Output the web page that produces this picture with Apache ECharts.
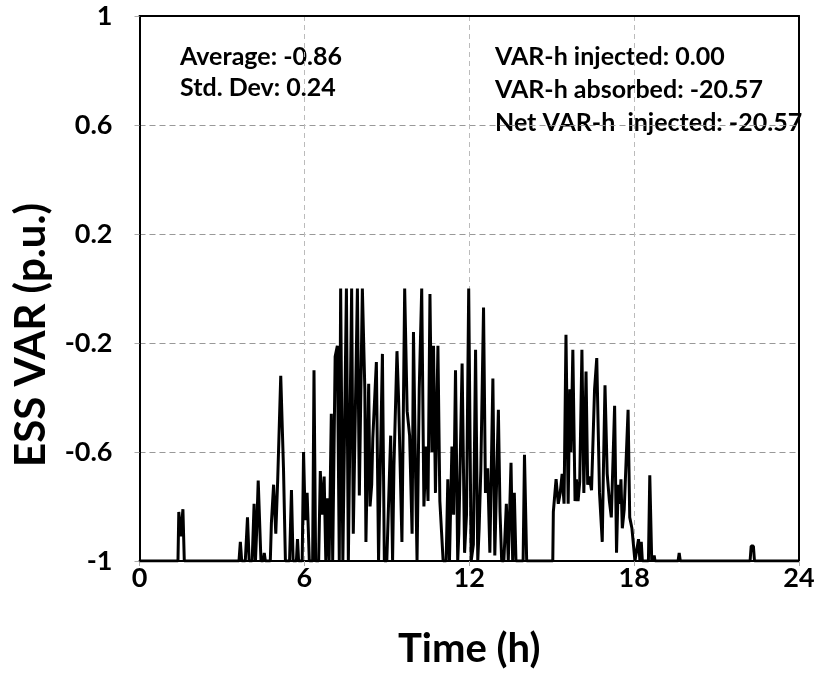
<!DOCTYPE html>
<html>
<head>
<meta charset="utf-8">
<script src="https://cdn.jsdelivr.net/npm/echarts@6/dist/echarts.min.js"></script>
<style>
  html, body { margin: 0; padding: 0; background: #fff; }
  #chart { width: 819px; height: 676px; }
</style>
</head>
<body>
<div id="chart"></div>
<script>
// time (h) and ESS VAR (p.u.)
var hours = [
  0, 1.40, 1.43, 1.50, 1.58, 1.63, 3.62, 3.67, 3.72, 3.85, 3.93, 3.99, 4.10, 4.17, 4.22, 4.26, 4.32, 4.42,
  4.50, 4.54, 4.58, 4.76, 4.80, 4.88, 4.96, 5.03, 5.14, 5.24, 5.31, 5.46, 5.53, 5.59, 5.71, 5.75, 5.79,
  5.92, 5.97, 6.03, 6.10, 6.18, 6.30, 6.35, 6.41, 6.52, 6.58, 6.64, 6.72, 6.78, 6.83, 6.90, 6.98, 7.03,
  7.12, 7.20, 7.27, 7.32, 7.40, 7.53, 7.60, 7.72, 7.78, 7.93, 8.00, 8.11, 8.20, 8.24, 8.34, 8.39, 8.45,
  8.49, 8.62, 8.70, 8.84, 8.91, 9.00, 9.14, 9.21, 9.26, 9.37, 9.43, 9.55, 9.65, 9.74, 9.83, 9.92, 9.97,
  10.05, 10.10, 10.18, 10.27, 10.35, 10.43, 10.50, 10.57, 10.64, 10.70, 10.77, 10.86, 10.93, 10.99, 11.05,
  11.16, 11.22, 11.28, 11.37, 11.43, 11.50, 11.58, 11.62, 11.74, 11.83, 11.90, 11.98, 12.07, 12.15, 12.23,
  12.31, 12.36, 12.42, 12.52, 12.59, 12.67, 12.75, 12.86, 12.93, 13.06, 13.12, 13.18, 13.26, 13.35, 13.42,
  13.52, 13.58, 13.64, 13.70, 13.96, 14.01, 14.09, 15.04, 15.06, 15.16, 15.24, 15.31, 15.38, 15.45, 15.52,
  15.60, 15.66, 15.70, 15.77, 15.85, 15.90, 15.96, 16.02, 16.10, 16.17, 16.25, 16.31, 16.37, 16.45, 16.56,
  16.64, 16.74, 16.84, 16.88, 16.94, 17.02, 17.10, 17.17, 17.29, 17.36, 17.42, 17.48, 17.52, 17.57, 17.64,
  17.78, 17.84, 17.92, 18.03, 18.10, 18.16, 18.21, 18.26, 18.30, 18.52, 18.57, 18.64, 18.71, 18.73, 18.76,
  19.60, 19.64, 19.68, 22.22, 22.26, 22.34, 22.38, 24
];
var essVar = [
  -1, -1, -0.82, -0.91, -0.81, -1, -1, -0.93, -1, -1, -0.84, -1, -1, -0.79, -1, -0.9, -0.705, -1,
  -1, -0.97, -1, -1, -0.86, -0.72, -0.90, -0.70, -0.32, -0.66, -1, -1, -0.74, -1, -1, -0.92, -1,
  -1, -0.60, -0.85, -0.75, -1, -1, -0.30, -1, -1, -0.67, -0.83, -0.69, -1, -0.77, -1, -0.46, -1,
  -0.25, -0.21, -1, 0, -1, 0, -1, 0, -0.9, 0, -0.76, 0, -0.37, -0.93, -0.35, -0.80, -0.72,
  -0.55, -0.27, -1, -0.24, -1, -1, -0.54, -1, -0.65, -0.23, -0.41, -0.93, 0, -0.45, -0.54, -0.90, -0.16,
  -0.70, -1, -0.37, 0, -0.80, -0.58, -0.78, -0.02, -0.6, -0.21, -0.75, -0.21, -0.78, -0.89, -1,
  -1, -0.70, -1, -0.58, -0.83, -0.30, -1, -0.9, -0.275, -0.97, -0.83, 0, -1, -0.94, -0.225,
  -1, -0.88, -0.67, -0.07, -0.75, -0.66, -0.97, -0.33, -0.98, -0.445, -0.82, -1, -1, -0.79, -1,
  -0.64, -1, -0.75, -1, -1, -0.61, -1, -1, -0.82, -0.70, -0.79, -0.75, -0.68, -0.79, -0.17,
  -0.79, -0.37, -0.6, -0.225, -0.78, -0.70, -0.78, -0.71, -0.225, -0.75, -0.305, -0.72, -0.69, -0.74, -0.37,
  -0.255, -0.75, -0.93, -0.68, -0.355, -0.68, -0.78, -0.84, -0.43, -0.97, -0.72, -0.79, -0.70, -0.88, -0.81,
  -0.445, -0.84, -0.88, -1, -1, -0.92, -1, -0.93, -1, -1, -0.685, -1, -1, -0.98, -1,
  -1, -0.97, -1, -1, -0.945, -0.945, -1, -1
];
var statsLeft = ['Average: -0.86', 'Std. Dev: 0.24'];
var statsRight = ['VAR-h injected: 0.00', 'VAR-h absorbed: -20.57', 'Net VAR-h  injected: -20.57'];

var font = 'Lato, "Open Sans", sans-serif';
var points = hours.map(function(h, i) { return [h, essVar[i]]; });

var myChart = echarts.init(document.getElementById('chart'));

// plain black frame line for the top/right axes
var frame = { show: true, onZero: false, lineStyle: { color: '#000', width: 2 } };

var option = {
    animation: false,
    backgroundColor: '#fff',
    grid: { left: 139.5, right: 20, top: 16, bottom: 115 },
    xAxis: [{
        type: 'value', min: 0, max: 24, interval: 6,
        name: 'Time (h)', nameLocation: 'middle', nameGap: 68,
        nameTextStyle: { fontFamily: font, fontWeight: 'bold', fontSize: 40, color: '#000' },
        axisLine: frame,
        axisTick: { show: true, length: 5, lineStyle: { color: '#aaa' } },
        axisLabel: { margin: 4, fontFamily: font, fontWeight: 'bold', fontSize: 27, color: '#000' },
        splitLine: { show: true, lineStyle: { color: '#bbb', type: [5, 4], width: 1 } }
    }, {
        type: 'value', min: 0, max: 24, position: 'top',
        axisLine: frame, axisTick: { show: false }, axisLabel: { show: false }, splitLine: { show: false }
    }],
    yAxis: [{
        type: 'value', min: -1, max: 1, interval: 0.4,
        axisLine: frame,
        axisTick: { show: true, length: 5, lineStyle: { color: '#aaa' } },
        axisLabel: { margin: 27, fontFamily: font, fontWeight: 'bold', fontSize: 27, color: '#000' },
        splitLine: { show: true, lineStyle: { color: '#999', type: [6, 4], width: 1 } }
    }, {
        type: 'value', min: -1, max: 1, position: 'right',
        axisLine: frame, axisTick: { show: false }, axisLabel: { show: false }, splitLine: { show: false }
    }],
    graphic: [{
        type: 'text', x: 31, y: 335, rotation: Math.PI / 2,
        style: {
            text: 'ESS VAR (p.u.)', fontFamily: font, fontWeight: 'bold', fontSize: 42, fill: '#000',
            align: 'center', verticalAlign: 'middle'
        }
    }],
    series: [{
        type: 'line',
        data: points,
        symbol: 'none',
        lineStyle: { color: '#000', width: 3 },
        z: 3
    }]
};

statsLeft.forEach(function(t, i) {
    option.graphic.push({
        type: 'text', left: 180, top: 44 + i * 31,
        style: { text: t, fontFamily: font, fontWeight: 'bold', fontSize: 25, fill: '#000' }
    });
});
statsRight.forEach(function(t, i) {
    option.graphic.push({
        type: 'text', left: 495, top: 44 + i * 33,
        style: { text: t, fontFamily: font, fontWeight: 'bold', fontSize: 25, fill: '#000' }
    });
});

myChart.setOption(option);
</script>
</body>
</html>
